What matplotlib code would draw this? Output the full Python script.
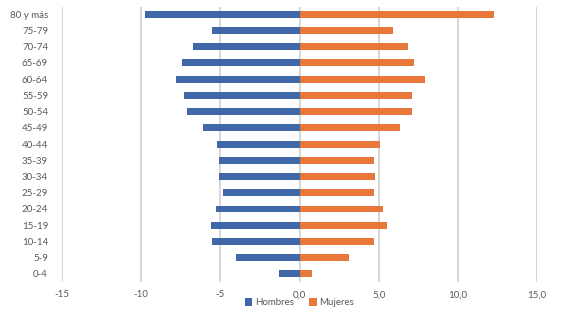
import numpy as np
import matplotlib
matplotlib.use("Agg")
import matplotlib.pyplot as plt

# age groups, bottom to top
grupos = ['0-4', '5-9', '10-14', '15-19', '20-24', '25-29', '30-34', '35-39',
          '40-44', '45-49', '50-54', '55-59', '60-64', '65-69', '70-74', '75-79', '80 y más']
hombres = [-1.3, -4.0, -5.5, -5.6, -5.3, -4.85, -5.1, -5.1,
           -5.2, -6.1, -7.1, -7.3, -7.8, -7.45, -6.7, -5.5, -9.75]
mujeres = [0.8, 3.1, 4.7, 5.55, 5.25, 4.7, 4.75, 4.7,
           5.1, 6.35, 7.1, 7.1, 7.9, 7.25, 6.85, 5.9, 12.3]
xticks = [-15, -10, -5, 0, 5, 10, 15]
xticklabels = ['-15', '-10', '-5', '0,0', '5,0', '10,0', '15,0']

plt.rcParams['font.family'] = ['Lato', 'DejaVu Sans']

fig = plt.figure(figsize=(5.67, 3.13), dpi=100)
ax = fig.add_axes([62/567, 1-282/313, (537-62)/567, (282-7)/313])

y = np.arange(len(grupos))
ax.barh(y, hombres, height=0.43, color='#4068A8', label='Hombres', zorder=3)
ax.barh(y, mujeres, height=0.43, color='#E8773A', label='Mujeres', zorder=3)

ax.set_xlim(-15, 15)
ax.set_ylim(-0.5, 16.45)
ax.set_xticks(xticks)
ax.set_xticklabels(xticklabels)
ax.set_yticks(y)
ax.set_yticklabels(grupos)
ax.grid(axis='x', color='#D0D0D0', linewidth=1.2, zorder=0)
for s in ax.spines.values():
    s.set_visible(False)
ax.tick_params(axis='both', length=0, labelsize=7, labelcolor='#595959')
ax.tick_params(axis='x', pad=6)
ax.tick_params(axis='y', pad=10)

ax.legend(loc='center', bbox_to_anchor=(0.5, -0.075), ncol=2, frameon=False,
          fontsize=7, labelcolor='#595959', handlelength=0.8, handleheight=0.8,
          handletextpad=0.3, columnspacing=1.5, borderpad=0, borderaxespad=0)

fig.savefig('out.png', dpi=100)
